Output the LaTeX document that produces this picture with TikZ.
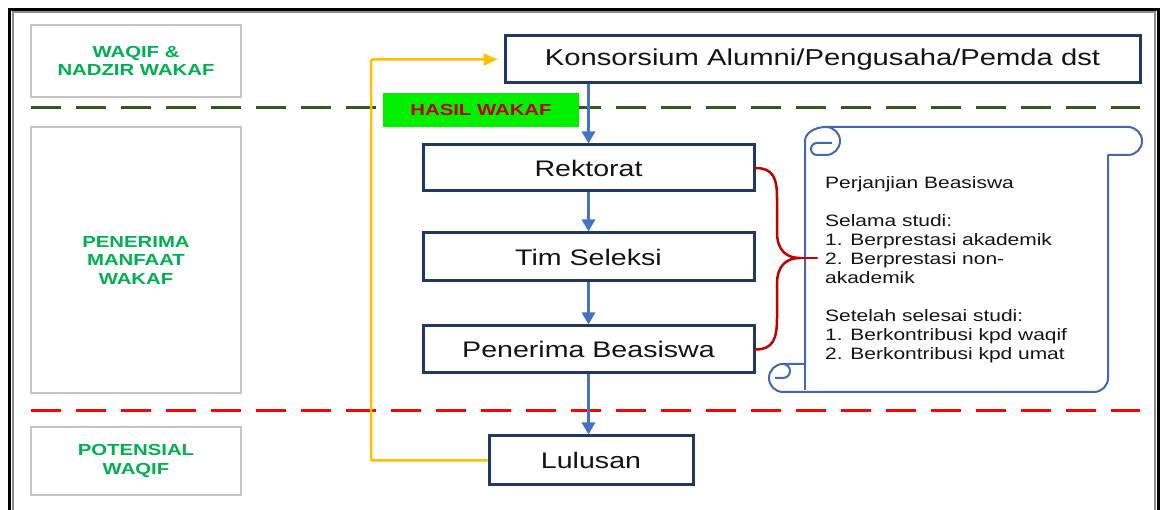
\documentclass[tikz,border=0pt]{standalone}
\usepackage{fontspec}
\setmainfont{Liberation Sans}[FakeStretch=1.27]
\usetikzlibrary{arrows.meta,calc}
\definecolor{navy}{HTML}{1F3864}
\definecolor{lblue}{HTML}{4472C4}
\definecolor{gold}{HTML}{FFC000}
\definecolor{dred}{HTML}{C00000}
\definecolor{lgreen}{HTML}{00B050}
\definecolor{dgreen}{HTML}{375623}
\definecolor{scrollc}{HTML}{4468AA}
\definecolor{lgrey}{HTML}{C4C4C4}
\definecolor{txt}{HTML}{141414}
\definecolor{hgreen}{HTML}{00F000}
\definecolor{rdash}{HTML}{FF0000}
\begin{document}
\begin{tikzpicture}[x=1pt,y=-1pt,
  lab/.style={draw=lgrey, line width=2pt, text=lgreen, font=\fontsize{16}{18.5}\selectfont\bfseries, align=center, inner sep=0pt, minimum width=210pt},
  mainbox/.style={draw=navy, line width=3pt, fill=white, font=\fontsize{22.5}{27}\selectfont, text=txt, inner sep=0pt},
  barrow/.style={draw=lblue, line width=2.8pt, -{Triangle[length=12pt,width=13pt]}},
  yarrow/.style={draw=gold, line width=2.5pt, rounded corners=2pt, -{Triangle[length=14pt,width=12pt]}},
  sepline/.style={line width=3pt, dash pattern=on 30pt off 15pt},
  bracestyle/.style={draw=dred, line width=2.5pt, line cap=round, line join=round},
  scrollstyle/.style={draw=scrollc, line width=2pt, line join=round},
  scrolltext/.style={font=\fontsize{16.5}{19}\selectfont, text=txt, align=left, inner sep=0pt}
]
\useasboundingbox (0,0) rectangle (1163,510);
\clip (0,0) rectangle (1163,510);
\fill[white] (0,0) rectangle (1163,510);

% outer frame
\draw[black, line width=3pt] (9.5,9.5) rectangle (1158,540);
\draw[black!45, line width=2pt] (12.5,12.5) rectangle (1154.5,537);

% left labels
\node[lab, minimum height=72pt] (waqif) at (136,61) {WAQIF \&\\NADZIR WAKAF};
\node[lab, minimum height=266pt] (manfaat) at (136,260) {PENERIMA\\MANFAAT\\WAKAF};
\node[lab, minimum height=68pt] (potensial) at (136,461) {POTENSIAL\\WAQIF};

% separators
\draw[sepline, dgreen] (31,108) -- (1140,108);
\draw[sepline, rdash] (31,411) -- (1140,411);

% main boxes
\node[mainbox, minimum width=635pt, minimum height=47pt, font=\fontsize{23}{27}\selectfont] (kons) at (822.5,59.5) {Konsorsium Alumni/Pengusaha/Pemda dst};
\node[fill=hgreen, minimum width=196pt, minimum height=34pt, inner sep=0pt, text=dred, font=\fontsize{16}{18}\selectfont\bfseries] (hasil) at (481,110) {HASIL WAKAF};
\node[mainbox, minimum width=331pt, minimum height=46pt] (rek) at (588.5,168) {Rektorat};
\node[mainbox, minimum width=331pt, minimum height=48pt] (tim) at (588.5,257) {Tim Seleksi};
\node[mainbox, minimum width=331pt, minimum height=47pt] (pen) at (588.5,349.5) {Penerima Beasiswa};
\node[mainbox, minimum width=204pt, minimum height=49pt] (lul) at (591,460.5) {Lulusan};

% blue arrows
\draw[barrow] (rek.north |- kons.south) -- (rek.north);
\draw[barrow] (rek.south) -- (tim.north);
\draw[barrow] (tim.south) -- (pen.north);
\draw[barrow] (pen.south) -- (pen.south |- lul.north);

% yellow feedback
\coordinate (ycorner) at (371,59.5);
\draw[yarrow, shorten >=6pt] (lul.west) -| (ycorner) -- (kons.west);

% scroll
\path[scrollstyle, fill=white]
  (805,141) arc[start angle=180, end angle=270, x radius=21, y radius=14]
  -- (1128,127) arc[start angle=-90, end angle=90, radius=14]
  -- (1108,155) -- (1108,378) arc[start angle=0, end angle=90, radius=14]
  -- (783,392) arc[start angle=90, end angle=270, radius=14]
  -- (805,364) -- cycle;
\draw[scrollstyle] (826,127) arc[start angle=-90, end angle=90, radius=14]
  -- (817,155) arc[start angle=90, end angle=270, radius=6] -- (832,143);
\draw[scrollstyle] (783,364) arc[start angle=-90, end angle=90, radius=7] -- (775,378);
\draw[scrollstyle] (805,364) -- (805,390);

\node[scrolltext, anchor=north west] (agree) at (825,176.5) {Perjanjian Beasiswa\\[19pt]Selama studi:\\1. Berprestasi akademik\\2. Berprestasi non-\\akademik\\[19pt]Setelah selesai studi:\\1. Berkontribusi kpd waqif\\2. Berkontribusi kpd umat};

% brace
\draw[bracestyle] (rek.east) .. controls (773,168) and (777,178) .. (777,198)
  -- (777,232) .. controls (777,250) and (786,258) .. (800,258)
  .. controls (786,258) and (777,266) .. (777,284)
  -- (777,318) .. controls (777,339) and (773,349.5) .. (pen.east);
\draw[bracestyle] (800,258) -- (817,258);
\end{tikzpicture}
\end{document}
